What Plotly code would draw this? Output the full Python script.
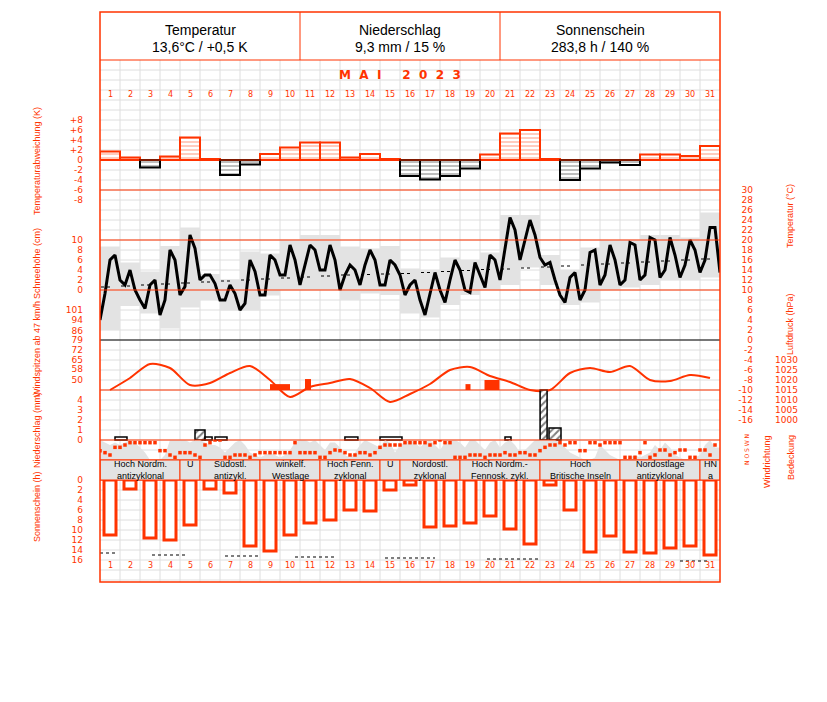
import plotly.graph_objects as go

OFF = 8               # page body margin of the html page
W, H = 827 - OFF, 702 - OFF
RED = '#ff3300'
GRID = '#dedede'
BOXGRAY = '#e3e3e3'
FONT = 'DejaVu Sans'
TFONT = 'Liberation Sans Narrow, Liberation Sans, Arial'

# ---------------- data ----------------
days = list(range(1, 32))
obs_hours = [0, 6, 12, 18]

temp_dev = [1.7, 0.5, -1.5, 0.7, 4.5, 0.2, -3.0, -0.9, 1.2, 2.5, 3.5, 3.5, 0.5, 1.2, 0.2, -3.2,
            -3.9, -3.2, -1.7, 1.1, 5.3, 6.0, 0.2, -4.0, -1.7, -0.5, -1.0, 1.1, 1.1, 0.8, 2.8]

temp_min = [2.0, 6.8, 5.3, 2.3, 6.5, 8.0, 5.9, 5.9, 8.9, 10.0, 10.0, 10.0, 8.0, 9.3, 9.0, 5.3,
            4.5, 7.0, 9.0, 10.0, 11.0, 14.5, 11.0, 7.0, 7.5, 10.0, 10.5, 11.0, 12.0, 12.0, 12.5]
temp_max = [18.7, 15.5, 13.7, 18.8, 22.5, 13.2, 12.1, 17.7, 17.3, 20.1, 21.0, 21.0, 18.7, 18.3, 18.8, 14.3,
            14.0, 16.5, 16.0, 17.5, 25.0, 25.0, 17.0, 14.0, 18.5, 20.0, 20.0, 21.0, 21.0, 20.5, 25.5]

temp_6h = [4, 9.3, 16, 17, 12, 11, 14, 10, 8, 6.3, 11, 12, 5, 8, 18, 16,
           9, 10.7, 21, 18.3, 12, 13, 13, 11.3, 8, 8, 11, 9.3, 6, 7.3, 16, 13.7,
           9, 9, 17, 16, 13, 13, 19, 16, 11, 15, 19, 18, 14, 14, 19, 16,
           10, 13, 15, 14, 11, 15, 18, 16, 11, 11, 16, 15, 13, 9, 11, 12,
           8, 5, 9, 13.5, 10, 7.5, 12, 16, 14, 10, 9.5, 15.5, 13, 10.5, 17, 16,
           12, 18, 24.5, 22, 16, 20, 24, 21, 16.5, 15, 15.5, 12, 9, 7.5, 12.5, 13.5,
           8, 10, 17.5, 18, 11, 13, 19, 16, 11, 12, 19.5, 19, 12, 13, 20.5, 20,
           12.5, 14, 20.5, 17, 12.5, 15, 20, 18, 13.5, 16, 22.5, 22.5, 13.5]

clim_mean = [10.6, 10.8, 11.0, 11.2, 11.4, 11.6, 11.8, 12.0, 12.2, 12.4, 12.6, 12.8, 13.0, 13.1, 13.2, 13.3,
             13.5, 13.7, 13.9, 14.1, 14.2, 14.4, 14.6, 14.8, 15.0, 15.2, 15.4, 15.6, 15.8, 16.0, 16.2]

pressure = [1015, 1021, 1028, 1026, 1017.5, 1018.5, 1023.5, 1027, 1020, 1011.5, 1016.5, 1018.5, 1020.5,
            1016, 1009, 1013, 1018, 1025, 1026.5, 1022, 1019, 1015, 1015, 1023.5, 1026, 1024, 1027,
            1020, 1019.5, 1022.5, 1021]

gust_day = [9.5, 10.9, 18.9, 20.1]
gust_width = [1.0, 0.3, 0.25, 0.75]
gust_kmh = [47, 50.7, 47, 50]
gust_baseline_kmh = 42.7

prec_day = [1.55, 5.5, 5.93, 6.55, 13.07, 15.05, 20.9, 22.68, 23.25]
prec_width = [0.6, 0.5, 0.35, 0.6, 0.65, 1.1, 0.3, 0.35, 0.6]
prec_mm = [0.3, 1.0, 0.3, 0.3, 0.3, 0.3, 0.3, 5.0, 1.2]
prec_hatched = [False, True, False, False, False, False, False, True, True]

wind_dir = [168, 132, 90, 228, 228, 270, 312, 312, 312, 312, 312, 312,
            168, 168, 90, 48, 132, 132, 132, 90, 48,
            270, 312, 360, 360,
            48, 48, 90, 90, 90, 48, 90,
            132, 132, 132, 132, 132, 132, 132, 312, 132, 132, 132, 132, 48, 48,
            132, 180, 168, 132, 90, 90, 132, 132, 90, 132,
            228, 270, 270, 270, 270, 312, 312, 312,
            312, 312, 270, 312, 360, 312, 312, 48, 48, 48,
            90, 90, 90, 48, 90, 90, 90,
            132, 90, 90, 132, 132, 90, 90,
            168, 228, 270, 270, 312, 270, 312, 312,
            168, 168, 312, 312, 270, 312, 312, 312, 312,
            48, 48, 48, 132, 312, 48, 90,
            180, 180, 90, 132, 180, 180, 48, 48,
            180, 180, 90, 270]

cloud_octas = [8, 7, 6, 7, 6, 7, 8, 7, 5, 3, 0, 0, 0, 2,
               8, 8, 8, 8, 7, 8, 8, 7, 6, 6, 5, 3,
               5, 7, 8, 6, 3, 2, 1, 2, 3, 2, 1, 2, 4,
               7, 8, 8, 7, 8, 6, 4, 7, 7, 5, 2, 1, 3,
               6, 8, 7, 6, 5, 8, 7, 3, 6, 7, 8, 7,
               5, 7, 8, 6, 4, 7, 8, 8, 7, 5, 8, 8, 6, 4,
               7, 8, 5, 7, 8, 6, 3, 4,
               6, 8, 8, 8, 8, 8, 7, 5, 3,
               2, 1, 0, 0, 1, 6, 4,
               2, 1, 0, 0, 1, 2, 1, 2,
               3, 6, 4, 7, 5, 2, 1, 0, 0, 1, 2, 6, 8, 5]

sunshine = [11.0, 1.8, 11.6, 12.0, 9.0, 1.8, 2.6, 13.2, 14.2, 11.0, 8.6, 8.0, 6.0, 6.2, 2.0, 1.0,
            9.4, 9.2, 8.6, 7.2, 9.8, 12.8, 1.0, 6.0, 14.4, 11.2, 14.4, 14.6, 13.6, 13.2, 15.0]

sun_ref_start = [0.5, 3.1, 6.75, 10.25, 14.75, 19.85, 29.5]
sun_ref_end = [1.4, 4.9, 8.4, 12.3, 17.25, 22.5, 30.9]
sun_ref_h = [14.6, 15.0, 15.2, 15.4, 15.6, 15.8, 16.2]

wl_start = [1, 5, 6, 9, 12, 15, 16, 19, 23, 27, 31]
wl_end = [4, 5, 8, 11, 14, 15, 18, 22, 26, 30, 31]
wl_line1 = ['Hoch Nordm.', 'U', 'Südostl.', 'winkelf.', 'Hoch Fenn.', 'U', 'Nordostl.',
            'Hoch Nordm.-', 'Hoch', 'Nordostlage', 'HN']
wl_line2 = ['antizyklonal', '', 'antizykl.', 'Westlage', 'zyklonal', '', 'zyklonal',
            'Fennosk. zykl.', 'Britische Inseln', 'antizyklonal', 'a']

header_titles = ['Temperatur', 'Niederschlag', 'Sonnenschein']
header_values = ['13,6°C / +0,5 K', '9,3 mm / 15 %', '283,8 h / 140 %']
month_label = 'M  A  I     2  0  2  3'

dev_ticks = [8, 6, 4, 2, 0, -2, -4, -6, -8]
temp_ticks = list(range(30, -17, -2))
snow_ticks = [10, 8, 6, 4, 2, 0]
wind_ticks = [101, 94, 86, 79, 72, 65, 58, 50]
pres_ticks = [1030, 1025, 1020, 1015, 1010, 1005, 1000]
prec_ticks = [4, 3, 2, 1, 0]
sun_ticks = [0, 2, 4, 6, 8, 10, 12, 14, 16]

# ---------------- helpers (reference-pixel -> paper) ----------------
def py(y):
    return 1 - (y - OFF) / H


def px(x):
    return (x - OFF) / W


def yax(top, bottom, v_top, v_bottom, labels=None, pos=None, ticktext=None):
    d = dict(domain=[py(bottom), py(top)], range=[v_bottom, v_top],
             showgrid=False, zeroline=False, showline=False, ticks='', fixedrange=True)
    if labels is None:
        d.update(visible=False, anchor='x')
    else:
        d.update(anchor='free', position=px(pos), side='left', tickvals=labels,
                 ticktext=ticktext if ticktext else [str(v) for v in labels],
                 tickfont=dict(family=FONT, size=9, color=RED), showticklabels=True)
    return d


obs_x = [d - 0.5 + h / 24 for d in days for h in obs_hours]
temp_x = obs_x + [31.5]

fig = go.Figure()

# temperature deviation
pos_dev = [v if v >= 0 else None for v in temp_dev]
neg_dev = [v if v < 0 else None for v in temp_dev]
fig.add_trace(go.Bar(x=days, y=pos_dev, width=1, yaxis='y',
                     marker=dict(color='white', line=dict(color=RED, width=2),
                                 pattern=dict(shape='-', fgcolor=RED, bgcolor='white', size=4, solidity=0.25))))
fig.add_trace(go.Bar(x=days, y=neg_dev, width=1, yaxis='y',
                     marker=dict(color='white', line=dict(color='black', width=2),
                                 pattern=dict(shape='-', fgcolor='black', bgcolor='white', size=4, solidity=0.25))))

# temperature range boxes, climatology, curve
fig.add_trace(go.Bar(x=days, y=[b - a for a, b in zip(temp_min, temp_max)], base=temp_min, width=1,
                     yaxis='y2', marker=dict(color=BOXGRAY, line=dict(width=0))))
cx, cy = [], []
for d, v in zip(days, clim_mean):
    cx += [d - 0.45, d + 0.05, None]
    cy += [v, v, None]
fig.add_trace(go.Scatter(x=cx, y=cy, mode='lines', yaxis='y2',
                         line=dict(color='black', width=1.2, dash='dot')))
fig.add_trace(go.Scatter(x=temp_x, y=temp_6h, mode='lines', yaxis='y2',
                         line=dict(color='black', width=3)))

# snow (no data, axis only)
fig.add_trace(go.Scatter(x=[None], y=[None], yaxis='y3', mode='lines'))

# wind gusts
fig.add_trace(go.Bar(x=gust_day, y=[g - gust_baseline_kmh for g in gust_kmh], base=gust_baseline_kmh,
                     width=gust_width, yaxis='y4', marker=dict(color=RED, line=dict(width=0))))

# pressure
fig.add_trace(go.Scatter(x=days, y=pressure, mode='lines', yaxis='y5',
                         line=dict(color=RED, width=2, shape='spline', smoothing=0.8)))

# precipitation
fig.add_trace(go.Bar(x=prec_day, y=prec_mm, width=prec_width, yaxis='y6',
                     marker=dict(color='white', line=dict(color='black', width=1.5),
                                 pattern=dict(shape=['/' if h else '' for h in prec_hatched],
                                              fgcolor='black', bgcolor='white', size=5, solidity=0.4))))

# cloud cover (y7, drawn first) & wind direction (y8, drawn on top)
fig.add_trace(go.Scatter(x=obs_x + [31.5], y=cloud_octas + [cloud_octas[-1]], mode='lines', yaxis='y7',
                         fill='tozeroy', fillcolor=BOXGRAY, line=dict(width=0, color=BOXGRAY)))
fig.add_trace(go.Scatter(x=obs_x, y=wind_dir, mode='markers', yaxis='y8',
                         marker=dict(symbol='square', size=3.5, color=RED, line=dict(width=0))))

# sunshine
fig.add_trace(go.Bar(x=days, y=sunshine, width=0.6, yaxis='y9',
                     marker=dict(color='white', line=dict(color=RED, width=3))))
sx, sy = [], []
for a, b, v in zip(sun_ref_start, sun_ref_end, sun_ref_h):
    sx += [a, b, None]
    sy += [v, v, None]
fig.add_trace(go.Scatter(x=sx, y=sy, mode='lines', yaxis='y9',
                         line=dict(color='black', width=1.2, dash='dot')))

# ---------------- shapes ----------------
shapes = []
for yy in range(70, 582, 10):
    shapes.append(dict(type='line', xref='paper', yref='paper', x0=px(100), x1=px(720),
                       y0=py(yy), y1=py(yy), line=dict(color=GRID, width=1), layer='below'))
for d in days[:-1]:
    shapes.append(dict(type='line', xref='x', yref='paper', x0=d + 0.5, x1=d + 0.5,
                       y0=py(60), y1=py(582), line=dict(color=GRID, width=1), layer='below'))
for yy, col, wd in [(60, RED, 1), (160, RED, 1), (190, RED, 1), (240, RED, 1), (290, RED, 1),
                    (340, 'black', 1), (390, RED, 1), (440, RED, 1), (460, RED, 1), (480, RED, 1)]:
    shapes.append(dict(type='line', xref='paper', yref='paper', x0=px(100), x1=px(720),
                       y0=py(yy), y1=py(yy), line=dict(color=col, width=wd), layer='above'))
for xx in (300, 500):
    shapes.append(dict(type='line', xref='paper', yref='paper', x0=px(xx), x1=px(xx),
                       y0=py(12), y1=py(60), line=dict(color=RED, width=1), layer='above'))
for a, b in zip(wl_start, wl_end):
    shapes.append(dict(type='rect', xref='x', yref='paper', x0=a - 0.5, x1=b + 0.5,
                       y0=py(480), y1=py(460), fillcolor=BOXGRAY, line=dict(color=RED, width=1),
                       layer='above'))
shapes.append(dict(type='rect', xref='paper', yref='paper', x0=px(100), x1=px(720),
                   y0=py(582), y1=py(12), line=dict(color=RED, width=1.5), layer='above'))

# ---------------- annotations ----------------
ann = []


def note(x, y, text, font, xref='paper', angle=0):
    ann.append(dict(x=x, y=y, xref=xref, yref='paper', text=text, showarrow=False,
                    xanchor='center', yanchor='middle', textangle=angle, font=font))


for i, (t, v) in enumerate(zip(header_titles, header_values)):
    cxp = px(200 + 200 * i)
    note(cxp, py(30), t, dict(family='Liberation Sans', size=14, color='black'))
    note(cxp, py(47), v, dict(family='Liberation Sans', size=14, color='black'))
note(px(400), py(75), '<b>' + month_label + '</b>', dict(family=FONT, size=12, color=RED))
for d in days:
    for yy in (95, 565):
        note(d, py(yy), str(d), dict(family=FONT, size=8, color=RED), xref='x')
for a, b, l1, l2 in zip(wl_start, wl_end, wl_line1, wl_line2):
    note((a + b) / 2, py(470), l1 + '<br>' + (l2 if l2 else ' '),
         dict(family='Liberation Sans', size=9, color='black'), xref='x')
titles = [('Temperaturabweichung (K)', 37, 161), ('Schneehöhe (cm)', 37, 264),
          ('Windspitzen ab 47 km/h', 37, 349), ('Niederschlag (mm)', 37, 430),
          ('Sonnenschein (h)', 37, 507), ('Temperatur (°C)', 790, 216),
          ('Luftdruck (hPa)', 790, 324), ('Windrichtung', 767, 462), ('Bedeckung', 791, 458)]
for t, xx, yy in titles:
    note(px(xx), py(yy), t, dict(family=TFONT, size=9, color=RED), angle=-90)
note(px(747), py(450), 'N O S W N', dict(family=FONT, size=6, color=RED), angle=-90)

fig.update_layout(
    width=W, height=H, margin=dict(l=0, r=0, t=0, b=0), autosize=False,
    paper_bgcolor='white', plot_bgcolor='rgba(0,0,0,0)', showlegend=False, barmode='overlay',
    xaxis=dict(domain=[px(100), px(720)], range=[0.5, 31.5], visible=False, fixedrange=True),
    yaxis=yax(100, 210, 12, -10, dev_ticks, 83,
              ['+' + str(v) if v > 0 else str(v) for v in dev_ticks]),
    yaxis2=yax(185, 425, 31, -17, temp_ticks, 753),
    yaxis3=yax(235, 295, 11, -1, snow_ticks, 83),
    yaxis4=yax(300, 395, 50 + 80 * 51 / 70, 50 - 15 * 51 / 70, wind_ticks, 83),
    yaxis5=yax(340, 440, 1040, 990, pres_ticks, 798),
    yaxis6=yax(380, 445, 6, -0.5, prec_ticks, 83),
    yaxis7=yax(440, 460, 8, 0),
    yaxis8=yax(440, 460, 360, 0),
    yaxis9=yax(475, 585, -1, 21, sun_ticks, 83),
    shapes=shapes, annotations=ann,
)

fig.write_html("out.html")
